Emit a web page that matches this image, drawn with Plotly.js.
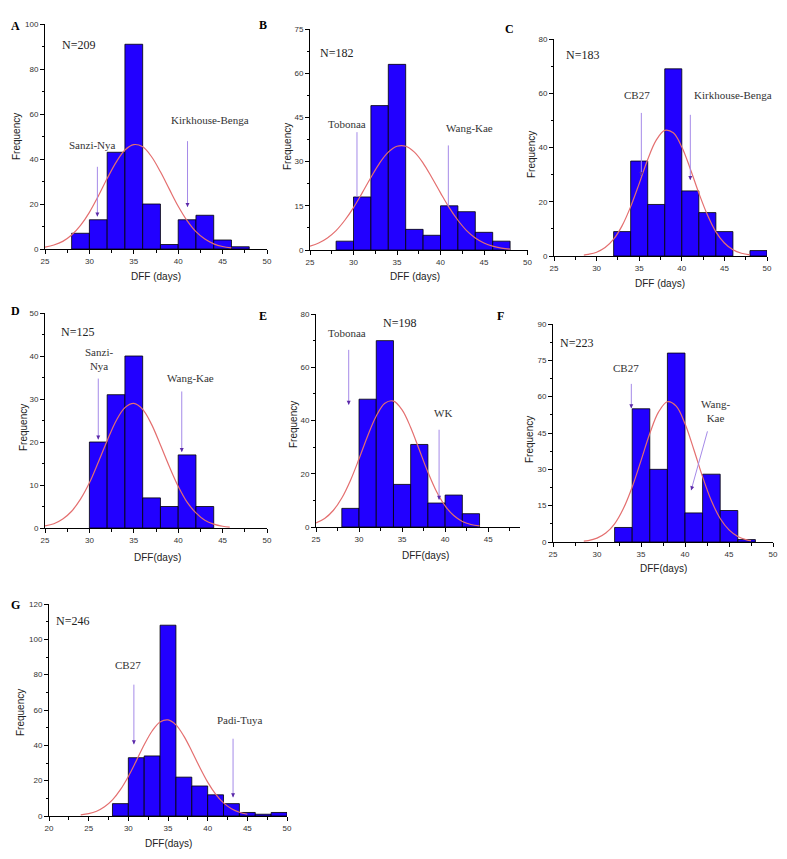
<!DOCTYPE html>
<html>
<head>
<meta charset="utf-8">
<script src="https://cdn.plot.ly/plotly-3.0.1.min.js"></script>
<style>html,body{margin:0;padding:0;background:#fff}#chart{width:787px;height:859px}</style>
</head>
<body>
<div id="chart"></div>
<script>
// ---------- DATA ----------
// bin left edges (bin width 2 days) and frequencies
const binsA = [28,30,32,34,36,38,40,42,44,46];
const countsA = [7,13,43,91,20,2,13,15,4,1];
const binsB = [28,30,32,34,36,38,40,42,44,46];
const countsB = [3,18,49,63,7,5,15,13,6,3];
const binsC = [32,34,36,38,40,42,44,48];
const countsC = [9,35,19,69,24,16,9,2];
const binsD = [30,32,34,36,38,40,42];
const countsD = [20,31,40,7,5,17,5];
const binsE = [28,30,32,34,36,38,40,42];
const countsE = [7,48,70,16,31,9,12,5];
const binsF = [32,34,36,38,40,42,44,46];
const countsF = [6,55,30,78,12,28,13,1];
const binsG = [28,30,32,34,36,38,40,42,44,46,48];
const countsG = [7,33,34,108,22,17,12,7,2,1,2];

// fitted normal curves
const curveXA = [25,26,27,28,29,30,31,32,33,34,35,36,37,38,39,40,41,42,43,44,45,46];
const curveYA = [0.8,1.8,3.4,6.2,10.5,16.3,23.5,31.3,38.5,44.0,46.4,45.4,41.0,34.3,26.6,19.0,12.6,7.7,4.4,2.3,1.1,0.5];
const curveXB = [25,26,27,28,29,30,31,32,33,34,35,36,37,38,39,40,41,42,43,44,45,46,47,48];
const curveYB = [1.3,2.4,4.1,6.6,10.1,14.4,19.4,24.6,29.5,33.2,35.2,35.2,33.2,29.5,24.6,19.4,14.4,10.1,6.6,4.1,2.4,1.3,0.65,0.3];
const curveXC = [28.5,29,30,31,32,33,34,35,36,37,38,39,40,41,42,43,44,45,46,47,48];
const curveYC = [0.35,0.6,1.4,3.1,6.2,11.2,18.2,26.7,35.6,42.7,46.3,45.4,40.2,32.1,23.2,15.2,8.9,4.8,2.3,1.0,0.4];
const curveXD = [25,26,27,28,29,30,31,32,33,34,35,36,37,38,39,40,41,42,43,44,45,45.8];
const curveYD = [0.5,1.0,2.1,3.9,6.7,10.5,15.3,20.3,24.9,28.0,29.0,27.6,24.1,19.3,14.3,9.7,6.0,3.5,1.8,0.9,0.4,0.2];
const curveXE = [25,26,27,28,29,30,31,32,33,34,35,36,37,38,39,40,41,42,43,44];
const curveYE = [1.55,3.2,6.2,10.9,17.5,25.6,34.2,41.7,46.5,47.3,44.0,37.4,29.0,20.6,13.3,7.9,4.3,2.1,0.95,0.4];
const curveXF = [28.5,29,30,31,32,33,34,35,36,37,38,39,40,41,42,43,44,45,46,47,47.5];
const curveYF = [0.4,0.6,1.6,3.7,7.5,13.8,22.7,33.6,44.8,53.7,57.9,56.1,48.8,38.2,26.9,17.0,9.7,5.0,2.3,0.9,0.6];
const curveXG = [24,25,26,27,28,29,30,31,32,33,34,35,36,37,38,39,40,41,42,43,44,45];
const curveYG = [0.6,1.3,2.7,5.2,9.1,14.9,22.4,31.2,40.3,48.1,53.2,54.4,51.6,45.2,36.7,27.6,19.2,12.4,7.4,4.1,2.1,1.0];

// texts
const panelLetters = ['A','B','C','D','E','F','G'];
const sampleSizes = ['N=209','N=182','N=183','N=125','N=198','N=223','N=246'];
const xTitles = ['DFF (days)','DFF (days)','DFF (days)','DFF(days)','DFF(days)','DFF(days)','DFF(days)'];
const yTitle = 'Frequency';

// ---------- LAYOUT SETTINGS ----------
const W = 787, H = 859;
const fx = p => p / W;
const fy = p => 1 - p / H;

const panels = [
  {bins:binsA, counts:countsA, cx:curveXA, cy:curveYA, xr:[25,50], yr:[0,100], xd:5, yd:20,
   box:[45,267,24,249], letter:[15,26], xt:[156,277], yt:[17,137], nPos:[28.8,90.8],
   labels:[{t:'Sanzi-Nya',x:30.3,y:46.4},{t:'Kirkhouse-Benga',x:43.6,y:57.5}],
   arrows:[{x:30.9,y:14.5,ax:30.9,ay:37.2,h:2,dx:0,dy:-5},{x:41.05,y:18.7,ax:41.05,ay:48.6,h:2,dx:0,dy:-5}]},
  {bins:binsB, counts:countsB, cx:curveXB, cy:curveYB, xr:[25,50], yr:[0,75], xd:5, yd:15,
   box:[310,527.5,29,250], letter:[263,25], xt:[415,277], yt:[287,147], nPos:[28.0,66.8],
   labels:[{t:'Tobonaa',x:29.2,y:42.8},{t:'Wang-Kae',x:43.35,y:41.3}],
   arrows:[{x:30.4,y:18,ax:30.4,ay:40.5,h:0},{x:40.9,y:14.7,ax:40.9,ay:36,h:0}]},
  {bins:binsC, counts:countsC, cx:curveXC, cy:curveYC, xr:[25,50], yr:[0,80], xd:5, yd:20,
   box:[554,767,39,256], letter:[510,29], xt:[660,283], yt:[532,155], nPos:[28.4,74.2],
   labels:[{t:'CB27',x:34.7,y:59.4},{t:'Kirkhouse-Benga',x:46.0,y:59.4}],
   arrows:[{x:35.25,y:29.5,ax:35.25,ay:53.3,h:2,dx:0,dy:-5},{x:41.0,y:28,ax:41.0,ay:52.6,h:2,dx:0,dy:-5}]},
  {bins:binsD, counts:countsD, cx:curveXD, cy:curveYD, xr:[25,50], yr:[0,50], xd:5, yd:10,
   box:[45,267,313,528], letter:[15,311], xt:[157,557], yt:[23,428], nPos:[28.7,45.5],
   labels:[{t:'Sanzi-<br>Nya',x:31.1,y:39.2},{t:'Wang-Kae',x:41.4,y:35.0}],
   arrows:[{x:31.0,y:20.6,ax:31.0,ay:35.1,h:2,dx:0,dy:-5},{x:40.4,y:17.7,ax:40.4,ay:32.1,h:2,dx:0,dy:-5}]},
  {bins:binsE, counts:countsE, cx:curveXE, cy:curveYE, xr:[25,48.7], yr:[0,80], xd:5, yd:20,
   box:[316,520,314,527], letter:[263,316], xt:[425,555], yt:[293,425], nPos:[34.65,76.75],
   labels:[{t:'Tobonaa',x:28.6,y:72.75},{t:'WK',x:39.7,y:42.75}],
   arrows:[{x:28.8,y:45.9,ax:28.8,ay:67.1,h:2,dx:0,dy:-5},{x:39.3,y:10.25,ax:39.3,ay:37.1,h:2,dx:0,dy:-5}]},
  {bins:binsF, counts:countsF, cx:curveXF, cy:curveYF, xr:[25,50], yr:[0,90], xd:5, yd:15,
   box:[553,773,324,542], letter:[500,316], xt:[663,568], yt:[529,440], nPos:[27.65,82.2],
   labels:[{t:'CB27',x:33.3,y:71.8},{t:'Wang-<br>Kae',x:43.5,y:54.1}],
   arrows:[{x:33.9,y:55.2,ax:33.9,ay:65.9,h:2,dx:0,dy:-5},{x:40.7,y:21.4,ax:42.6,ay:46.3,h:2,dx:1.4,dy:-4.8}]},
  {bins:binsG, counts:countsG, cx:curveXG, cy:curveYG, xr:[20,50], yr:[0,120], xd:5, yd:20,
   box:[49,287,604,816], letter:[15,605], xt:[168,843], yt:[20,713], nPos:[23.0,110.2],
   labels:[{t:'CB27',x:29.96,y:85.6},{t:'Padi-Tuya',x:44.1,y:54.4}],
   arrows:[{x:30.7,y:40.6,ax:30.7,ay:75.2,h:2,dx:0,dy:-5},{x:43.2,y:10.6,ax:43.2,ay:44.6,h:2,dx:0,dy:-5}]}
];

const BAR = '#2200ff';
const CURVE = '#e46f6f';
const ARROW = '#a58ae8';
const HEAD = '#5b2aa8';
const SERIF = '"Liberation Serif","Times New Roman",serif';
const SANS = '"Liberation Sans",Arial,sans-serif';

const traces = [];
const layout = {
  width: W, height: H, margin:{l:0,r:0,t:0,b:0},
  paper_bgcolor:'#fff', plot_bgcolor:'rgba(0,0,0,0)',
  showlegend:false, bargap:0, annotations:[]
};

panels.forEach((p, i) => {
  const n = i + 1;
  const xa = n === 1 ? 'x' : 'x' + n;
  const ya = n === 1 ? 'y' : 'y' + n;
  const xk = n === 1 ? 'xaxis' : 'xaxis' + n;
  const yk = n === 1 ? 'yaxis' : 'yaxis' + n;

  traces.push({
    type:'bar', x:p.bins, y:p.counts, offset:0, width:2,
    marker:{color:BAR, line:{color:'#000', width:0.8}},
    xaxis:xa, yaxis:ya, hoverinfo:'x+y'
  });
  traces.push({
    type:'scatter', mode:'lines', x:p.cx, y:p.cy,
    line:{color:CURVE, width:1.2, shape:'spline', smoothing:1},
    xaxis:xa, yaxis:ya, hoverinfo:'skip'
  });

  const common = {
    showline:true, linecolor:'#000', linewidth:1, showgrid:false, zeroline:false,
    ticks:'outside', ticklen:4, tickwidth:1, tickcolor:'#000',
    tickfont:{family:SANS, size:8, color:'#333'}, fixedrange:true
  };
  layout[xk] = Object.assign({}, common, {
    domain:[fx(p.box[0]), fx(p.box[1])], range:p.xr, dtick:p.xd, tick0:0,
    anchor:ya, minor:{ticks:'outside', ticklen:2.5, dtick:p.xd/2, tick0:0, tickcolor:'#000'}
  });
  layout[yk] = Object.assign({}, common, {
    domain:[fy(p.box[3]), fy(p.box[2])], range:p.yr, dtick:p.yd, tick0:0,
    anchor:xa, minor:{ticks:'outside', ticklen:2.5, dtick:p.yd/2, tick0:0, tickcolor:'#000'}
  });

  // panel letter
  layout.annotations.push({xref:'paper', yref:'paper', x:fx(p.letter[0]), y:fy(p.letter[1]),
    text:'<b>'+panelLetters[i]+'</b>', showarrow:false, xanchor:'center', yanchor:'middle',
    font:{family:SERIF, size:12, color:'#000'}});
  // axis titles
  layout.annotations.push({xref:'paper', yref:'paper', x:fx(p.xt[0]), y:fy(p.xt[1]),
    text:xTitles[i], showarrow:false, xanchor:'center', yanchor:'middle',
    font:{family:SANS, size:10, color:'#222'}});
  layout.annotations.push({xref:'paper', yref:'paper', x:fx(p.yt[0]), y:fy(p.yt[1]),
    text:yTitle, textangle:-90, showarrow:false, xanchor:'center', yanchor:'middle',
    font:{family:SANS, size:10, color:'#222'}});
  // N label
  layout.annotations.push({xref:xa, yref:ya, x:p.nPos[0], y:p.nPos[1],
    text:sampleSizes[i], showarrow:false, xanchor:'center', yanchor:'middle',
    font:{family:SERIF, size:12, color:'#222'}});
  // cultivar labels
  p.labels.forEach(l => layout.annotations.push({xref:xa, yref:ya, x:l.x, y:l.y,
    text:l.t, showarrow:false, xanchor:'center', yanchor:'middle',
    font:{family:SERIF, size:11, color:'#333'}}));
  // arrows: light shaft plus a short dark head
  p.arrows.forEach(a => {
    layout.annotations.push({xref:xa, yref:ya, x:a.x, y:a.y,
      axref:xa, ayref:ya, ax:a.ax, ay:a.ay, text:'', showarrow:true,
      arrowhead:0, arrowwidth:1, arrowcolor:ARROW, standoff:0, startstandoff:0});
    if (a.h) {
      layout.annotations.push({xref:xa, yref:ya, x:a.x, y:a.y,
        ax:a.dx, ay:a.dy, text:'', showarrow:true,
        arrowhead:2, arrowsize:0.8, arrowwidth:1, arrowcolor:HEAD, standoff:0, startstandoff:0});
    }
  });
});

Plotly.newPlot('chart', traces, layout, {displayModeBar:false, staticPlot:true});
</script>
</body>
</html>
